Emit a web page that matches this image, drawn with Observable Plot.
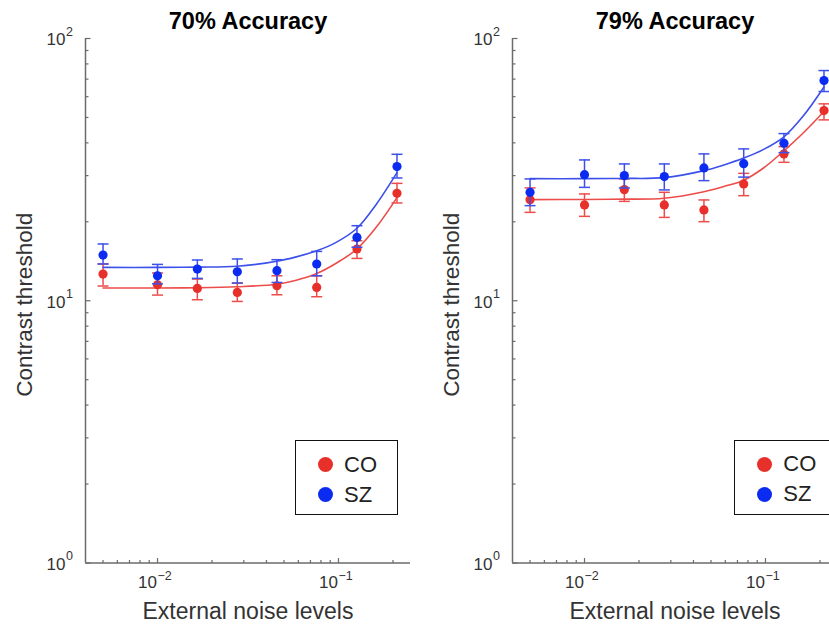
<!DOCTYPE html>
<html>
<head>
<meta charset="utf-8">
<script src="https://cdn.jsdelivr.net/npm/d3@7"></script>
<script src="https://cdn.jsdelivr.net/npm/@observablehq/plot@0.6"></script>
<style>
  html, body { margin: 0; padding: 0; background: #fff; }
  body { width: 829px; height: 625px; overflow: hidden; position: relative;
         font-family: "Liberation Sans", Arial, Helvetica, sans-serif; }
  .panel { position: absolute; top: 0; width: 420px; height: 625px; }
  .panel svg { overflow: visible; }
  .legend { position: absolute; width: 103px; height: 75px; box-sizing: border-box;
            border: 1.6px solid #111; background: #fff; }
  .legend .item { position: absolute; left: 0; height: 20px; }
  .legend .sw { position: absolute; width: 15px; height: 15px; border-radius: 50%; left: 22px; top: 2.5px; }
  .legend .lb { position: absolute; left: 48px; top: -3px; font-size: 22px; line-height: 26px; color: #222; }
</style>
</head>
<body>
<div id="left" class="panel" style="left:0px"></div>
<div id="right" class="panel" style="left:427.3px"></div>
<script>
// External noise levels (contrast units), shared by both accuracy levels
const noise = [0.005, 0.01, 0.0166, 0.0276, 0.0457, 0.0758, 0.1265, 0.2105];

// 70% accuracy thresholds (%), mean with lower/upper error bounds
const co70 = [12.64, 11.51, 11.14, 10.76, 11.41, 11.24, 15.75, 25.68];
const co70Lo = [11.38, 10.51, 10.09, 9.94, 10.54, 10.36, 14.50, 23.60];
const co70Hi = [13.81, 12.76, 12.10, 11.68, 12.45, 12.45, 16.94, 28.03];
const sz70 = [14.94, 12.45, 13.21, 12.90, 13.02, 13.81, 17.44, 32.47];
const sz70Lo = [13.81, 11.60, 12.17, 11.68, 11.74, 12.45, 16.00, 29.39];
const sz70Hi = [16.46, 13.76, 14.30, 14.43, 14.34, 15.42, 19.33, 36.18];

// 79% accuracy thresholds (%)
const co79 = [24.29, 23.20, 26.53, 23.20, 22.20, 27.88, 36.30, 53.12];
const co79Lo = [21.73, 20.98, 23.93, 20.79, 20.02, 25.16, 33.72, 48.94];
const co79Hi = [26.93, 25.54, 29.14, 25.91, 24.23, 30.61, 38.70, 56.34];
const sz79 = [25.91, 30.26, 30.00, 29.74, 32.10, 33.33, 39.85, 69.14];
const sz79Lo = [23.05, 27.06, 26.93, 26.46, 28.71, 29.61, 36.72, 62.77];
const sz79Hi = [29.14, 34.43, 33.24, 33.24, 36.30, 37.93, 43.39, 75.47];

// Model fit curves, sampled along the noise axis
const fitNoise = [0.005, 0.01, 0.0166, 0.0276, 0.0457, 0.0584, 0.0758, 0.0971, 0.1265, 0.1616, 0.2105];
const co70Fit = [11.18, 11.18, 11.21, 11.31, 11.56, 11.97, 12.70, 13.90, 15.75, 19.05, 24.72];
const sz70Fit = [13.40, 13.40, 13.43, 13.54, 14.15, 14.70, 15.50, 16.70, 18.90, 23.30, 30.79];
const co79Fit = [24.29, 24.34, 24.40, 24.61, 26.06, 27.23, 28.83, 32.00, 37.30, 43.60, 52.65];
const sz79Fit = [29.21, 29.21, 29.27, 29.48, 31.35, 32.89, 34.99, 37.70, 42.20, 50.60, 65.30];

// Axes
const xDomain = [0.004, 0.25];
const yDomain = [1, 100];
const xMajor = [0.01, 0.1];
const xMinor = [0.005, 0.006, 0.007, 0.008, 0.009, 0.02, 0.03, 0.04, 0.05, 0.06, 0.07, 0.08, 0.09, 0.2];
const yMajor = [1, 10, 100];
const yMinor = [2, 3, 4, 5, 6, 7, 8, 9, 20, 30, 40, 50, 60, 70, 80, 90];
const xTickExp = ["\u22122", "\u22121"];
const yTickExp = ["0", "1", "2"];

const groups = ["CO", "SZ"];
const dotColor = {CO: "#e8302a", SZ: "#0b2cf0"};
const lineColor = {CO: "#ec4d4a", SZ: "#3c50ea"};
const axisGray = "#6b6b6b";
const textGray = "#333333";
const font = '"Liberation Sans", Arial, Helvetica, sans-serif';

// Short line glyphs used as tick marks and error-bar caps
const tickUp = {draw(ctx, size) { const l = Math.sqrt(size / Math.PI); ctx.moveTo(0, 0); ctx.lineTo(0, -l); }};
const tickRight = {draw(ctx, size) { const l = Math.sqrt(size / Math.PI); ctx.moveTo(0, 0); ctx.lineTo(l, 0); }};
const capBar = {draw(ctx, size) { const l = Math.sqrt(size / Math.PI); ctx.moveTo(-l, 0); ctx.lineTo(l, 0); }};

function rowsOf(group, mean, lo, hi) {
  return noise.map((n, i) => ({group, noise: n, mean: mean[i], lo: lo[i], hi: hi[i]}));
}
function fitOf(group, vals) {
  return fitNoise.map((n, i) => ({group, noise: n, value: vals[i]}));
}

function panel(title, pts, fits) {
  const marks = [
    Plot.ruleX([xDomain[0]], {x: d => d, stroke: axisGray, strokeWidth: 1.5}),
    Plot.ruleY([yDomain[0]], {y: d => d, stroke: axisGray, strokeWidth: 1.5}),
    Plot.dot(xMajor, {x: d => d, frameAnchor: "bottom", symbol: tickUp, r: 5, stroke: axisGray, fill: "none", strokeWidth: 1.2}),
    Plot.dot(xMinor, {x: d => d, frameAnchor: "bottom", symbol: tickUp, r: 3, stroke: axisGray, fill: "none", strokeWidth: 1.2}),
    Plot.dot(yMajor, {y: d => d, frameAnchor: "left", symbol: tickRight, r: 5, stroke: axisGray, fill: "none", strokeWidth: 1.2}),
    Plot.dot(yMinor, {y: d => d, frameAnchor: "left", symbol: tickRight, r: 3, stroke: axisGray, fill: "none", strokeWidth: 1.2}),
    // tick labels written as 10 with a raised exponent
    Plot.text(xMajor, {x: d => d, frameAnchor: "bottom", text: () => "10", textAnchor: "end", lineAnchor: "middle", dx: -0.5, dy: 19.5, fontSize: 17, fill: textGray}),
    Plot.text(xMajor, {x: d => d, frameAnchor: "bottom", text: (d, i) => xTickExp[i], textAnchor: "start", lineAnchor: "middle", dx: 0, dy: 13, fontSize: 12.5, fill: textGray}),
    Plot.text(yMajor, {y: d => d, frameAnchor: "left", text: () => "10", textAnchor: "end", lineAnchor: "middle", dx: -20, dy: 1.5, fontSize: 17, fill: textGray}),
    Plot.text(yMajor, {y: d => d, frameAnchor: "left", text: (d, i) => yTickExp[i], textAnchor: "start", lineAnchor: "middle", dx: -19.5, dy: -7, fontSize: 12.5, fill: textGray}),
    // titles and axis labels
    Plot.text([title], {frameAnchor: "top", text: d => d, lineAnchor: "middle", dy: -17, fontSize: 23.5, fontWeight: "bold", fill: "#000"}),
    Plot.text(["External noise levels"], {frameAnchor: "bottom", text: d => d, lineAnchor: "middle", dy: 48.5, fontSize: 23, fill: textGray}),
    Plot.text(["Contrast threshold"], {frameAnchor: "left", text: d => d, rotate: -90, textAnchor: "middle", lineAnchor: "middle", dx: -61, dy: 4, fontSize: 22.5, fill: textGray})
  ];
  for (const g of groups) {
    const p = pts.filter(d => d.group === g);
    const f = fits.filter(d => d.group === g);
    marks.push(
      Plot.line(f, {x: "noise", y: "value", stroke: lineColor[g], strokeWidth: 1.6, curve: "catmull-rom"}),
      Plot.ruleX(p, {x: "noise", y1: "lo", y2: "hi", stroke: lineColor[g], strokeWidth: 1.5}),
      Plot.dot(p, {x: "noise", y: "lo", symbol: capBar, r: 5.5, stroke: lineColor[g], fill: "none", strokeWidth: 1.5}),
      Plot.dot(p, {x: "noise", y: "hi", symbol: capBar, r: 5.5, stroke: lineColor[g], fill: "none", strokeWidth: 1.5}),
      Plot.dot(p, {x: "noise", y: "mean", r: 4.6, fill: dotColor[g], stroke: "none"})
    );
  }
  return Plot.plot({
    width: 420, height: 625,
    marginLeft: 85, marginRight: 10, marginTop: 38, marginBottom: 62.5,
    x: {type: "log", domain: xDomain, axis: null},
    y: {type: "log", domain: yDomain, axis: null},
    style: {fontFamily: font, background: "transparent", overflow: "visible"},
    marks
  });
}

function legend(host, left, top) {
  const box = document.createElement("div");
  box.className = "legend";
  box.style.left = left + "px";
  box.style.top = top + "px";
  groups.forEach((g, i) => {
    const item = document.createElement("div");
    item.className = "item";
    item.style.top = (13.5 + i * 30) + "px";
    item.style.width = "100%";
    item.innerHTML = `<span class="sw" style="background:${dotColor[g]}"></span><span class="lb">${g}</span>`;
    box.appendChild(item);
  });
  host.appendChild(box);
}

const left = document.getElementById("left");
left.appendChild(panel("70% Accuracy",
  [...rowsOf("CO", co70, co70Lo, co70Hi), ...rowsOf("SZ", sz70, sz70Lo, sz70Hi)],
  [...fitOf("CO", co70Fit), ...fitOf("SZ", sz70Fit)]));
legend(left, 295, 440);

const right = document.getElementById("right");
right.appendChild(panel("79% Accuracy",
  [...rowsOf("CO", co79, co79Lo, co79Hi), ...rowsOf("SZ", sz79, sz79Lo, sz79Hi)],
  [...fitOf("CO", co79Fit), ...fitOf("SZ", sz79Fit)]));
legend(right, 307, 439.5);
</script>
</body>
</html>
